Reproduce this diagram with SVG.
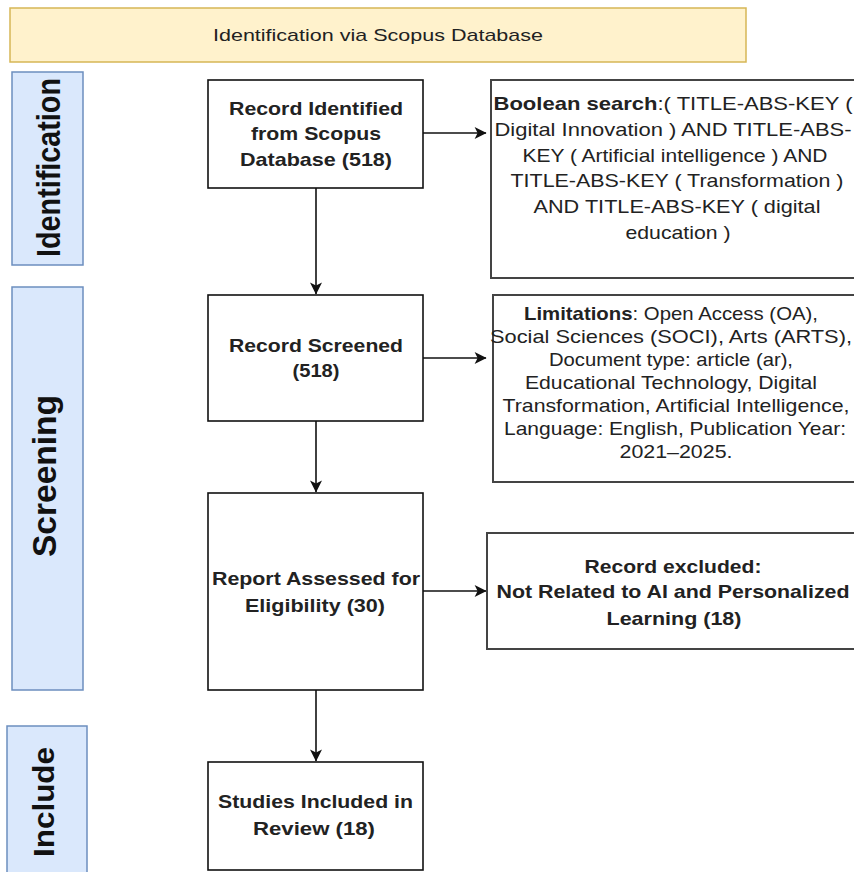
<svg xmlns="http://www.w3.org/2000/svg" width="854" height="872" viewBox="0 0 854 872">
<defs>
<style>
.lane{fill:#dae8fc;stroke:#6c8ebf;stroke-width:1.5}
.lanet{font-family:"Liberation Sans",Arial,sans-serif;font-weight:bold;fill:#111;text-anchor:middle}
.node{fill:#fff;stroke:#111;stroke-width:1.6}
.box{fill:#fff;stroke:#444;stroke-width:2}
.nt{font-family:"Liberation Sans",Arial,sans-serif;font-weight:bold;font-size:18.5px;fill:#222;text-anchor:middle}
.bt{font-family:"Liberation Sans",Arial,sans-serif;font-size:18.5px;fill:#222;text-anchor:middle}
.edge{fill:none;stroke:#111;stroke-width:1.6}
</style>
<marker id="arr" viewBox="0 0 10 10" refX="9.5" refY="5" markerWidth="13" markerHeight="12" markerUnits="userSpaceOnUse" orient="auto">
<path d="M0,0 L10,5 L0,10 L2.5,5 z" fill="#111"/>
</marker>
</defs>

<g id="banner">
<rect x="10" y="8" width="736" height="54" fill="#fff2cc" stroke="#d6b656" stroke-width="1.5"/>
<text x="378" y="41" font-family="'Liberation Sans',Arial,sans-serif" font-size="17" fill="#222" text-anchor="middle" textLength="330" lengthAdjust="spacingAndGlyphs">Identification via Scopus Database</text>
</g>

<g id="lane-identification">
<rect class="lane" x="12" y="72" width="71" height="193"/>
<text class="lanet" transform="translate(60,167.5) rotate(-90)" font-size="33" textLength="179" lengthAdjust="spacingAndGlyphs">Identification</text>
</g>
<g id="lane-screening">
<rect class="lane" x="12" y="287" width="71" height="403"/>
<text class="lanet" transform="translate(56,476) rotate(-90)" font-size="33" textLength="162" lengthAdjust="spacingAndGlyphs">Screening</text>
</g>
<g id="lane-include">
<rect class="lane" x="7" y="726" width="80" height="160"/>
<text class="lanet" transform="translate(54,802) rotate(-90)" font-size="29" textLength="110" lengthAdjust="spacingAndGlyphs">Include</text>
</g>

<g id="connectors">
<line class="edge" x1="316" y1="188" x2="316" y2="294" marker-end="url(#arr)"/>
<line class="edge" x1="316" y1="421" x2="316" y2="492" marker-end="url(#arr)"/>
<line class="edge" x1="316" y1="690" x2="316" y2="761" marker-end="url(#arr)"/>
<line class="edge" x1="423" y1="133" x2="486" y2="133" marker-end="url(#arr)"/>
<line class="edge" x1="423" y1="358" x2="486" y2="358" marker-end="url(#arr)"/>
<line class="edge" x1="423" y1="591" x2="486" y2="591" marker-end="url(#arr)"/>
</g>

<g id="node-identified">
<rect class="node" x="208" y="80" width="215" height="108"/>
<text class="nt" x="316" y="115" textLength="174" lengthAdjust="spacingAndGlyphs">Record Identified</text>
<text class="nt" x="316" y="140" textLength="130" lengthAdjust="spacingAndGlyphs">from Scopus</text>
<text class="nt" x="316" y="166" textLength="152" lengthAdjust="spacingAndGlyphs">Database (518)</text>
</g>

<g id="node-boolean">
<rect class="box" x="491" y="80" width="380" height="198"/>
<text class="bt" x="673" y="110" textLength="359" lengthAdjust="spacingAndGlyphs"><tspan font-weight="bold">Boolean search</tspan>:( TITLE-ABS-KEY (</text>
<text class="bt" x="673" y="136" textLength="357" lengthAdjust="spacingAndGlyphs">Digital Innovation ) AND TITLE-ABS-</text>
<text class="bt" x="675" y="162" textLength="305" lengthAdjust="spacingAndGlyphs">KEY ( Artificial intelligence ) AND</text>
<text class="bt" x="677" y="187" textLength="333" lengthAdjust="spacingAndGlyphs">TITLE-ABS-KEY ( Transformation )</text>
<text class="bt" x="677" y="213" textLength="287" lengthAdjust="spacingAndGlyphs">AND TITLE-ABS-KEY ( digital</text>
<text class="bt" x="678" y="239" textLength="105" lengthAdjust="spacingAndGlyphs">education )</text>
</g>

<g id="node-screened">
<rect class="node" x="208" y="295" width="215" height="126"/>
<text class="nt" x="316" y="352" textLength="174" lengthAdjust="spacingAndGlyphs">Record Screened</text>
<text class="nt" x="316" y="377" textLength="47" lengthAdjust="spacingAndGlyphs">(518)</text>
</g>

<g id="node-limitations">
<rect class="box" x="493" y="295" width="380" height="187"/>
<text class="bt" x="671" y="320" textLength="294" lengthAdjust="spacingAndGlyphs"><tspan font-weight="bold">Limitations</tspan>: Open Access (OA),</text>
<text class="bt" x="671" y="343" textLength="362" lengthAdjust="spacingAndGlyphs">Social Sciences (SOCI), Arts (ARTS),</text>
<text class="bt" x="671" y="366" textLength="244" lengthAdjust="spacingAndGlyphs">Document type: article (ar),</text>
<text class="bt" x="671" y="388.5" textLength="292" lengthAdjust="spacingAndGlyphs">Educational Technology, Digital</text>
<text class="bt" x="676" y="411.5" textLength="347" lengthAdjust="spacingAndGlyphs">Transformation, Artificial Intelligence,</text>
<text class="bt" x="675" y="434.5" textLength="342" lengthAdjust="spacingAndGlyphs">Language: English, Publication Year:</text>
<text class="bt" x="676" y="457.5" textLength="113" lengthAdjust="spacingAndGlyphs">2021–2025.</text>
</g>

<g id="node-assessed">
<rect class="node" x="208" y="493" width="215" height="197"/>
<text class="nt" x="316" y="585" textLength="208" lengthAdjust="spacingAndGlyphs">Report Assessed for</text>
<text class="nt" x="315" y="612" textLength="140" lengthAdjust="spacingAndGlyphs">Eligibility (30)</text>
</g>

<g id="node-excluded">
<rect class="box" x="487" y="533" width="380" height="116"/>
<text class="nt" x="673" y="573" textLength="177" lengthAdjust="spacingAndGlyphs">Record excluded:</text>
<text class="nt" x="673" y="598" textLength="353" lengthAdjust="spacingAndGlyphs">Not Related to AI and Personalized</text>
<text class="nt" x="674" y="625" textLength="135" lengthAdjust="spacingAndGlyphs">Learning (18)</text>
</g>

<g id="node-included">
<rect class="node" x="208" y="762" width="215" height="108"/>
<text class="nt" x="315.5" y="808" textLength="195" lengthAdjust="spacingAndGlyphs">Studies Included in</text>
<text class="nt" x="314" y="835" textLength="122" lengthAdjust="spacingAndGlyphs">Review (18)</text>
</g>
</svg>
